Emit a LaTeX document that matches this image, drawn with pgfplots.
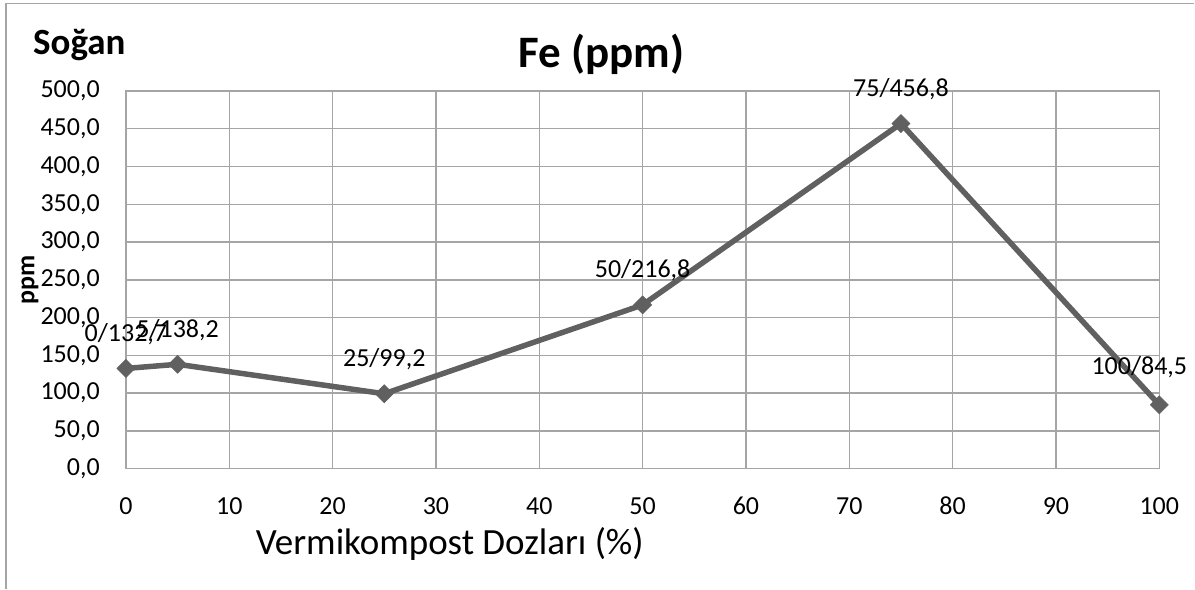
\documentclass[border=0pt]{standalone}
\usepackage{fontspec}
\setmainfont{Carlito}
\usepackage{pgfplots}
\pgfplotsset{compat=1.18}
\definecolor{linegray}{RGB}{96,96,96}
\definecolor{gridgray}{RGB}{165,165,165}
\begin{document}
\begin{tikzpicture}[x=1bp,y=1bp]
\path (0,0) rectangle (1195,589);
\draw[gridgray, line width=1.5bp] (6,0) -- (6,585.5) -- (1195,585.5);
\begin{axis}[at={(126bp,120bp)}, anchor=south west, scale only axis,
  width=1034bp, height=378bp,
  xmin=0, xmax=100, ymin=0, ymax=500,
  xtick={0,10,...,100}, ytick={0,50,...,500},
  grid=major, grid style={gridgray, line width=1.5bp},
  axis line style={gridgray, line width=1.5bp},
  major tick length=0pt, tick style={draw=none},
  /pgf/number format/assume math mode=true,
  ticklabel style={font=\fontsize{26bp}{30bp}\selectfont, inner sep=0pt},
  x tick label style={text height=16.5bp, text depth=0pt},
  xticklabel shift=29bp, yticklabel shift=26bp,
  y tick label style={/pgf/number format/.cd, fixed, fixed zerofill, precision=1, use comma, 1000 sep={}},
  clip=false]
\addplot[linegray, line width=5.5bp, mark=square*, mark size=6.4bp,
  mark options={rotate=45, line width=0.5bp, fill=linegray, solid}]
  coordinates {(0,132.7)(5,138.2)(25,99.2)(50,216.8)(75,456.8)(100,84.5)};
\begin{scope}[every node/.style={anchor=base, inner sep=0pt, font=\fontsize{26bp}{30bp}\selectfont}]
\node[yshift=27bp] at (axis cs:0,132.7) {0/132,7};
\node[yshift=27bp] at (axis cs:5,138.2) {5/138,2};
\node[yshift=27bp] at (axis cs:25,99.2) {25/99,2};
\node[yshift=27bp] at (axis cs:50,216.8) {50/216,8};
\node[yshift=27bp] at (axis cs:75,456.8) {75/456,8};
\node[yshift=30bp, xshift=-20bp] at (axis cs:100,84.5) {100/84,5};
\end{scope}
\end{axis}
\node[anchor=base, inner sep=0pt, font=\fontsize{45bp}{50bp}\selectfont\bfseries] at (602,521) {Fe (ppm)};
\node[anchor=base west, inner sep=0pt, font=\fontsize{37bp}{42bp}\selectfont\bfseries] at (33,534) {Soğan};
\node[anchor=base, inner sep=0pt, font=\fontsize{37bp}{42bp}\selectfont] at (450,34) {Vermikompost Dozları (\%)};
\node[rotate=90, inner sep=0pt, font=\fontsize{26bp}{30bp}\selectfont\bfseries] at (30,309) {ppm};
\end{tikzpicture}
\end{document}
